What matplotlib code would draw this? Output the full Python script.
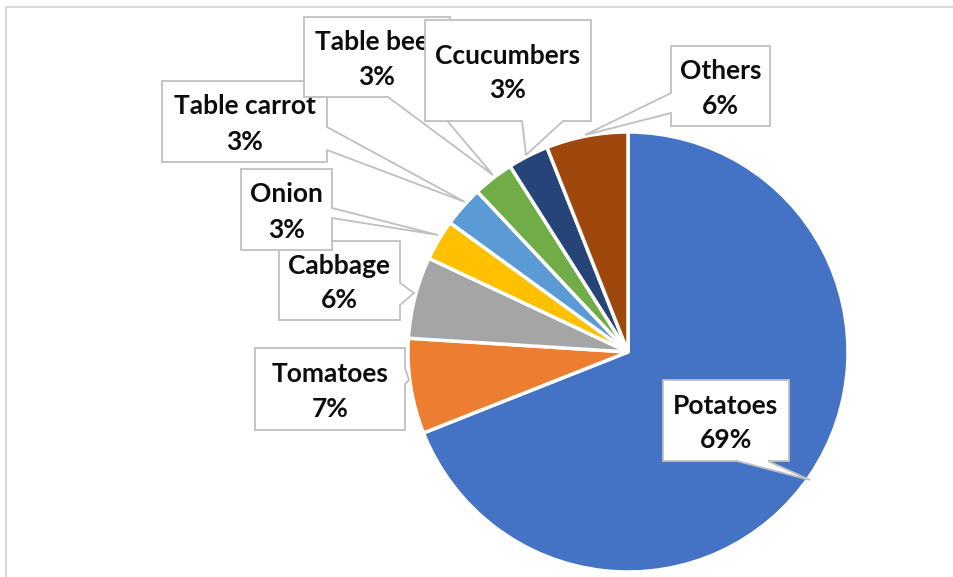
import matplotlib.pyplot as plt
from matplotlib.patches import Polygon, Rectangle

# Vegetable share data
crops = ['Potatoes', 'Tomatoes', 'Cabbage', 'Onion', 'Table carrot',
         'Table beet', 'Ccucumbers', 'Others']
shares = [69, 7, 6, 3, 3, 3, 3, 6]
colors = ['#4472C4', '#ED7D31', '#A5A5A5', '#FFC000', '#5B9BD5',
          '#70AD47', '#264478', '#9E480E']

W, H = 954, 577

# callout boxes in pixel coords: box (x0, y0, x1, y1), side of the tail,
# tail base along that side, tail tip
callouts = {
    'Potatoes':     ((663, 380, 789, 461), 'bottom', (737, 768), (810, 480)),
    'Tomatoes':     ((255, 348, 405, 430), 'right', (368, 384), (409, 380)),
    'Cabbage':      ((279, 241, 400, 320), 'right', (283, 305), (414, 293)),
    'Onion':        ((241, 169, 332, 250), 'right', (208, 218), (438, 235)),
    'Table carrot': ((162, 81, 327, 162), 'right', (127, 150), (465, 202)),
    'Table beet':   ((304, 17, 450, 97), 'bottom', (388, 427), (493, 175)),
    'Ccucumbers':   ((425, 20, 591, 121), 'bottom', (522, 563), (526, 155)),
    'Others':       ((671, 46, 770, 126), 'left', (93, 113), (585, 135)),
}


def callout_outline(box, side, base, tip):
    x0, y0, x1, y1 = box
    a, b = base
    if side == 'right':
        pts = [(x0, y0), (x1, y0), (x1, a), tip, (x1, b), (x1, y1), (x0, y1)]
    elif side == 'bottom':
        pts = [(x0, y0), (x1, y0), (x1, y1), (b, y1), tip, (a, y1), (x0, y1)]
    else:
        pts = [(x0, y0), (x1, y0), (x1, y1), (x0, y1), (x0, b), tip, (x0, a)]
    # flip to data coords (y up)
    return [(x, H - y) for x, y in pts]


fig = plt.figure(figsize=(W / 100, H / 100), dpi=100)
ax = fig.add_axes([0, 0, 1, 1])

ax.pie(shares, colors=colors, startangle=90, counterclock=False,
       center=(628, H - 352), radius=220,
       wedgeprops=dict(edgecolor='white', linewidth=2.5))

# chart area border
ax.add_patch(Rectangle((6, -5), W, H - 7 + 5, fill=False,
                       edgecolor='#D9D9D9', linewidth=1.5, zorder=1))

for i, (name, pct) in enumerate(zip(crops, shares)):
    box, side, base, tip = callouts[name]
    z = 5 + i
    ax.add_patch(Polygon(callout_outline(box, side, base, tip), closed=True,
                         facecolor='white', edgecolor='#BFBFBF',
                         linewidth=1.3, zorder=z))
    cx = (box[0] + box[2]) / 2
    cy = (box[1] + box[3]) / 2
    for txt, dy in ((name, -7), ('%d%%' % pct, 28)):
        t = ax.text(cx, H - (cy + dy), txt, ha='center', va='baseline',
                    fontsize=19, fontweight='bold', family='Lato',
                    color='#0D0D0D', zorder=z + 0.5)
        t.set_clip_on(False)

ax.set_xlim(0, W)
ax.set_ylim(0, H)
ax.set_aspect('auto')
ax.axis('off')

plt.savefig('out.png', dpi=100)
